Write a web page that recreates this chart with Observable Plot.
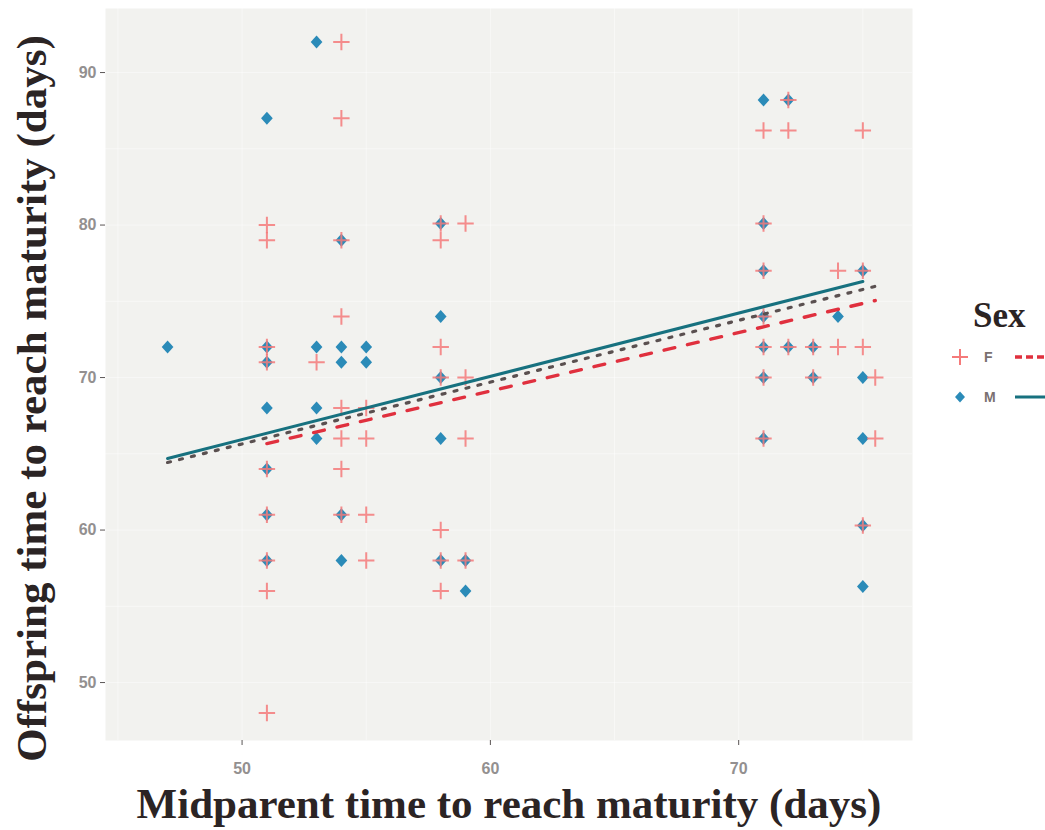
<!DOCTYPE html>
<html><head><meta charset="utf-8">
<script src="https://cdn.jsdelivr.net/npm/d3@7"></script>
<script src="https://cdn.jsdelivr.net/npm/@observablehq/plot@0.6"></script>
<style>
body{margin:0;background:#fff;}
#wrap{position:relative;width:1045px;height:830px;overflow:hidden;background:#fff;}
#legend{position:absolute;left:900px;top:280px;}
</style></head><body><div id="wrap"></div>
<script>
// ---- data ----
const femaleX = [54,54,51,51,54,71,72,72,75,58,59,58,71,
  51,51,53,54,54,55,54,55,51,54,
  58,58,59,59,71,74,75,71,71,72,73,74,75,71,73,75.5,71,75.5,
  51,54,55,58,51,55,58,59,51,58,51,75];
const femaleY = [92,87,80,79,79,86.2,88.2,86.2,86.2,80.1,80.1,79,80.1,
  72,71,71,74,68,68,66,66,64,64,
  72,70,70,66,77,77,77,74,72,72,72,72,72,70,70,70,66,66,
  61,61,61,60,58,58,58,58,56,56,48,60.3];
const maleX = [53,51,71,72,58,54,71,
  47,51,51,53,54,55,54,55,51,53,53,51,
  58,58,58,71,75,71,74,71,72,73,71,73,75,71,75,
  51,54,51,54,58,59,59,75,75];
const maleY = [92,87,88.2,88.2,80.1,79,80.1,
  72,72,71,72,72,72,71,71,68,68,66,64,
  74,70,66,77,77,74,74,72,72,72,70,70,70,66,66,
  61,61,58,58,58,58,56,60.3,56.3];
// fitted lines (end points)
const fitGroup = ["All","All","F","F","M","M"];
const fitX = [47,75.5,51,75.5,47,75];
const fitY = [64.43,75.98,65.67,75.05,64.69,76.3];
const xTicks = [50,60,70];
const yTicks = [50,60,70,80,90];
const xGrid = [45,50,55,60,65,70,75];
const yGrid = [50,55,60,65,70,75,80,85,90];
const sexLabels = ["F","M"];

// ---- styles ----
const colF = "#f57a7a", colM = "#2b8bb8";
const lineF = "#e0303e", lineM = "#17717f", lineAll = "#5a5050";

const females = femaleX.map((x,i)=>({x, y: femaleY[i]}));
const males = maleX.map((x,i)=>({x, y: maleY[i]}));
const fits = fitX.map((x,i)=>({g: fitGroup[i], x, y: fitY[i]}));

const plusSym = {draw(ctx,size){const r=Math.sqrt(size/Math.PI);ctx.moveTo(-r,0);ctx.lineTo(r,0);ctx.moveTo(0,-r);ctx.lineTo(0,r);}};
const diamondSym = {draw(ctx,size){const r=Math.sqrt(size/Math.PI);ctx.moveTo(0,-r);ctx.lineTo(r*0.9,0);ctx.lineTo(0,r);ctx.lineTo(-r*0.9,0);ctx.closePath();}};

const serif = "'Liberation Serif','DejaVu Serif',serif";
const sans = "'Liberation Sans',Arial,sans-serif";

const chart = Plot.plot({
  width: 1045, height: 830,
  marginLeft: 105, marginRight: 133, marginTop: 8, marginBottom: 90,
  x: {domain: [44.5, 77.0]},
  y: {domain: [46.2, 94.2]},
  style: {background: "#fff", overflow: "visible"},
  marks: [
    Plot.frame({fill: "#f2f2ef", stroke: "none"}),
    Plot.gridX(xGrid, {stroke: "#fff", strokeOpacity: 0.45, strokeWidth: 1}),
    Plot.gridY(yGrid, {stroke: "#fff", strokeOpacity: 0.45, strokeWidth: 1}),
    Plot.axisX({ticks: xTicks, tickSize: 5, tickPadding: 17, fontSize: 16, fontWeight: "bold", fontFamily: sans, fill: "#939090", stroke: "#5a5555", label: null}),
    Plot.axisY({ticks: yTicks, tickSize: 5, tickPadding: 4, fontSize: 16, fontWeight: "bold", fontFamily: sans, fill: "#939090", stroke: "#5a5555", label: null}),
    Plot.dot(males, {x: "x", y: "y", symbol: diamondSym, r: 6.5, fill: colM, stroke: "none"}),
    Plot.dot(females, {x: "x", y: "y", symbol: plusSym, r: 8.2, fill: "none", stroke: colF, strokeWidth: 2, strokeOpacity: 0.85}),
    Plot.line(fits.filter(d=>d.g==="All"), {x: "x", y: "y", stroke: lineAll, strokeWidth: 3.2, strokeDasharray: "3,9.3"}),
    Plot.line(fits.filter(d=>d.g==="F"), {x: "x", y: "y", stroke: lineF, strokeWidth: 3.4, strokeDasharray: "11,13"}),
    Plot.line(fits.filter(d=>d.g==="M"), {x: "x", y: "y", stroke: lineM, strokeWidth: 3}),
    Plot.text(["Midparent time to reach maturity (days)"], {frameAnchor: "bottom", dy: 64, text: d=>d, fontSize: 43, fontWeight: "bold", fontFamily: serif, fill: "#2b2424", textAnchor: "middle", lineAnchor: "middle"}),
    Plot.text(["Offspring time to reach maturity (days)"], {frameAnchor: "left", dx: -73, dy: 24, rotate: -90, text: d=>d, fontSize: 43, fontWeight: "bold", fontFamily: serif, fill: "#2b2424", textAnchor: "middle", lineAnchor: "middle"})
  ]
});
document.getElementById("wrap").appendChild(chart);

// ---- legend ----
const lg = d3.select("#wrap").append("svg").attr("id","legend").attr("width",145).attr("height",140);
lg.append("text").attr("x",73).attr("y",47).attr("font-family",serif).attr("font-weight","bold").attr("font-size",35).attr("fill","#2b2424").text("Sex");
const rowsY = [77, 117];
sexLabels.forEach((s,i)=>{
  const y = rowsY[i];
  const g = lg.append("g");
  if (s==="F") {
    g.append("path").attr("d",`M52,${y}h16M60,${y-8}v16`).attr("stroke",colF).attr("stroke-width",2).attr("fill","none");
    g.append("line").attr("x1",115).attr("x2",150).attr("y1",y).attr("y2",y).attr("stroke",lineF).attr("stroke-width",3.4).attr("stroke-dasharray","7,4");
  } else {
    g.append("path").attr("d",`M60,${y-5.5}L65,${y}L60,${y+5.5}L55,${y}Z`).attr("fill",colM);
    g.append("line").attr("x1",115).attr("x2",150).attr("y1",y).attr("y2",y).attr("stroke",lineM).attr("stroke-width",3);
  }
  g.append("text").attr("x",84).attr("y",y).attr("dy","0.36em").attr("font-family",sans).attr("font-weight","bold").attr("font-size",14).attr("fill","#7a7070").text(s);
});
</script></body></html>
